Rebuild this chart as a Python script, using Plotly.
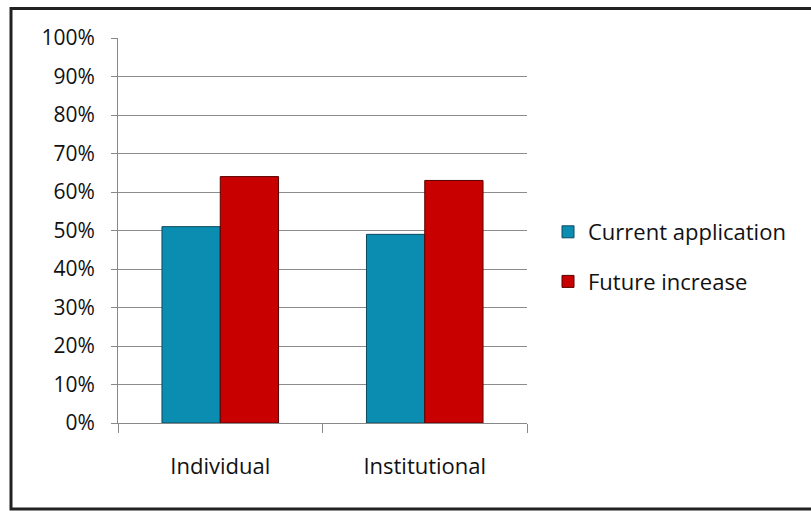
import plotly.graph_objects as go

categories = ["Individual", "Institutional"]
current_application = [51, 49]
future_increase = [64, 63]
y_ticks = [0, 10, 20, 30, 40, 50, 60, 70, 80, 90, 100]
y_tick_labels = [f"{v}%" for v in y_ticks]

FONT = "Open Sans"

fig = go.Figure()
fig.add_trace(go.Bar(
    x=categories, y=current_application, name="Current application",
    legendgroup="a",
    marker=dict(color="#0a8db0", line=dict(color="#0b4a5e", width=1)),
))
fig.add_trace(go.Bar(
    x=categories, y=future_increase, name="Future increase",
    legendgroup="b",
    marker=dict(color="#c80000", line=dict(color="#5a0000", width=1)),
))

L, T, W, H = 118, 38, 409, 385
WIN_W, WIN_H = 811, 511

def px_x(px):
    return (px - L) / W

def px_y(py):
    return (T + H - py) / H

fig.update_layout(
    width=WIN_W, height=WIN_H,
    margin=dict(l=L, r=WIN_W - L - W, t=T, b=WIN_H - T - H, pad=0),
    paper_bgcolor="white", plot_bgcolor="white",
    barmode="group", bargap=0.43, bargroupgap=0,
    font=dict(family=FONT, color="#111111"),
    showlegend=True,
    legend=dict(
        x=px_x(548), y=px_y(257), xanchor="left", yanchor="middle",
        font=dict(size=22, family=FONT, color="#111111"),
        traceorder="grouped", tracegroupgap=18,
        bgcolor="rgba(0,0,0,0)",
    ),
    xaxis=dict(
        type="category", tickson="boundaries", ticks="outside", ticklen=9,
        tickcolor="#888888", showline=True, linecolor="#888888", linewidth=1,
        showgrid=False, tickfont=dict(size=22, family=FONT, color="#111111"),
        ticklabelstandoff=24,
    ),
    yaxis=dict(
        range=[0, 100], tickvals=y_ticks, ticktext=y_tick_labels,
        ticks="outside", ticklen=6, tickcolor="#888888",
        showline=True, linecolor="#888888", linewidth=1,
        showgrid=True, gridcolor="#8c8c8c", gridwidth=1,
        zeroline=False,
        tickfont=dict(size=21, family=FONT, color="#111111"),
        ticklabelstandoff=12,
    ),
    shapes=[dict(
        type="rect", xref="paper", yref="paper",
        x0=px_x(11), x1=px_x(830), y0=px_y(509), y1=px_y(8.5),
        line=dict(color="#222222", width=3), fillcolor="rgba(0,0,0,0)",
        layer="below",
    )],
)

fig.write_html("out.html")
